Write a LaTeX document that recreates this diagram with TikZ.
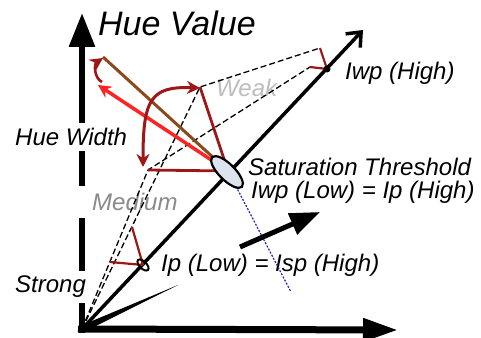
\documentclass[tikz,border=0pt]{standalone}
\usepackage{fontspec}
\setsansfont{Liberation Sans}
\usepackage{tikz}
\usetikzlibrary{arrows.meta, calc}
\tikzset{every node/.style={font=\sffamily\itshape}}
\usepackage{xcolor}
\definecolor{huebrown}{HTML}{8B4A1C}
\definecolor{huered}{HTML}{FF2424}
\definecolor{darkhue}{HTML}{9E1616}
\definecolor{ellfill}{HTML}{DDE4EE}
\definecolor{weakgray}{HTML}{BDBDBD}
\definecolor{medgray}{HTML}{8A8A8A}
\definecolor{dotblue}{HTML}{2020C0}

\begin{document}
\begin{tikzpicture}[
        x=1pt, y=-1pt,
        lbl/.style={anchor=west, inner xsep=4pt, inner ysep=5pt, fill=white,
          font=\sffamily\itshape\fontsize{24}{27}\selectfont},
        axis/.style={line width=6pt, -{Triangle[length=34pt, width=25pt]}},
        cone/.style={line width=1.3pt, dash pattern=on 6pt off 3pt},
        radius/.style={darkhue, line width=2.8pt},
        tick/.style={darkhue, line width=2.2pt},
        hwarc/.style={darkhue, line width=3pt},
        >={Stealth[length=13pt, width=13pt]},
      ]
        \useasboundingbox (0,0) rectangle (481,337);
        % points
        \coordinate (O) at (82,329);
        \coordinate (vtip) at (82,13);
        \coordinate (htip) at (398,330);
        \coordinate (dtip) at (363,30);
        \coordinate (P1) at (143,265);
        \coordinate (E) at (228,171);
        \coordinate (P3) at (327,69);
        \coordinate (M) at (148,170);
        \coordinate (W) at (200,87);
        \coordinate (M1) at (110,262);
        \coordinate (W1) at (132,227);
        \coordinate (M3) at (310,67);
        \coordinate (W3) at (320,48);
        \coordinate (B) at (103,57);
        \coordinate (R) at (98,85);
        \coordinate (marc) at (143,167);
        \coordinate (warc) at (200,88);
        \coordinate (rarc) at (102,82);
        \coordinate (barc) at (103,58);
        \coordinate (blueend) at (291,292);
        \coordinate (ta) at (240,247);
        \coordinate (tb) at (320,212);
        \coordinate (wtip) at (178,285);
        % axes
        \draw[axis] (82,333) -- (vtip);
        \draw[line width=7pt, -{Triangle[length=35pt, width=22pt]}] (78,329) -- (htip);
        % labels
        \node[anchor=west, inner sep=0pt, font=\sffamily\itshape\fontsize{34}{38}\selectfont] (huevalue) at (98,23) {Hue Value};
        \node[lbl] (huewidth) at (11,137) {Hue Width};
        \node[lbl, text=medgray, inner xsep=14pt, inner ysep=7pt] (medium) at (78,202) {Medium};
        \node[lbl] (strong) at (11,287) {Strong};
        \node[lbl, text=weakgray] (weak) at (212,88) {Weak};
        \node[lbl] (iwphigh) at (341,73) {Iwp (High)};
        \node[lbl, fill=none] (satthr) at (244,167) {Saturation Threshold};
        \node[lbl, fill=none] (iwplow) at (247,192) {Iwp (Low) = Ip (High)};
        \node[lbl, fill=none] (iplow) at (157,265) {Ip (Low) = Isp (High)};
        % intensity axis
        \draw[line width=3.5pt, -{Straight Barb[length=12pt, width=20pt]}] (O) -- (dtip);
        % cone edges
        \draw[cone] (O) -- (M) -- (M3);
        \draw[cone] (O) -- (W) -- (W3);
        % radii
        \draw[radius] (E) -- (M);
        \draw[radius] (E) -- (W);
        \draw[tick] (P1) -- (M1);
        \draw[tick] (P1) -- (W1);
        \draw[tick] (P3) -- (M3);
        \draw[tick] (P3) -- (W3);
        % hue
        \draw[huebrown, line width=3pt] (E) -- (B);
        \draw[huered, line width=3.5pt, ->] (E) -- (R);
        \draw[hwarc, <->] (marc) .. controls (143,100) and (150,86) .. (warc);
        \draw[hwarc, ->, line width=2.6pt] (rarc) .. controls (94,78) and (94,64) .. (barc);
        % threshold
        \draw[dotblue, line width=1.2pt, dash pattern=on 2pt off 1.5pt] (E) -- (blueend);
        \draw[line width=2.2pt, fill=ellfill] (227,172) ellipse [x radius=21, y radius=8, rotate=-45];
        \draw[line width=2pt] (P1) ellipse [x radius=7, y radius=3.5, rotate=-45];
        \fill (P3) circle (3.5);
        % saturation arrows
        \draw[line width=5pt, -{Triangle[length=30pt, width=22pt]}] (ta) -- (tb);
        \fill ($(O)+(1.5,3.2)$) -- (wtip) -- ($(O)+(-1.5,-3.2)$) -- cycle;
      \end{tikzpicture}
\end{document}
